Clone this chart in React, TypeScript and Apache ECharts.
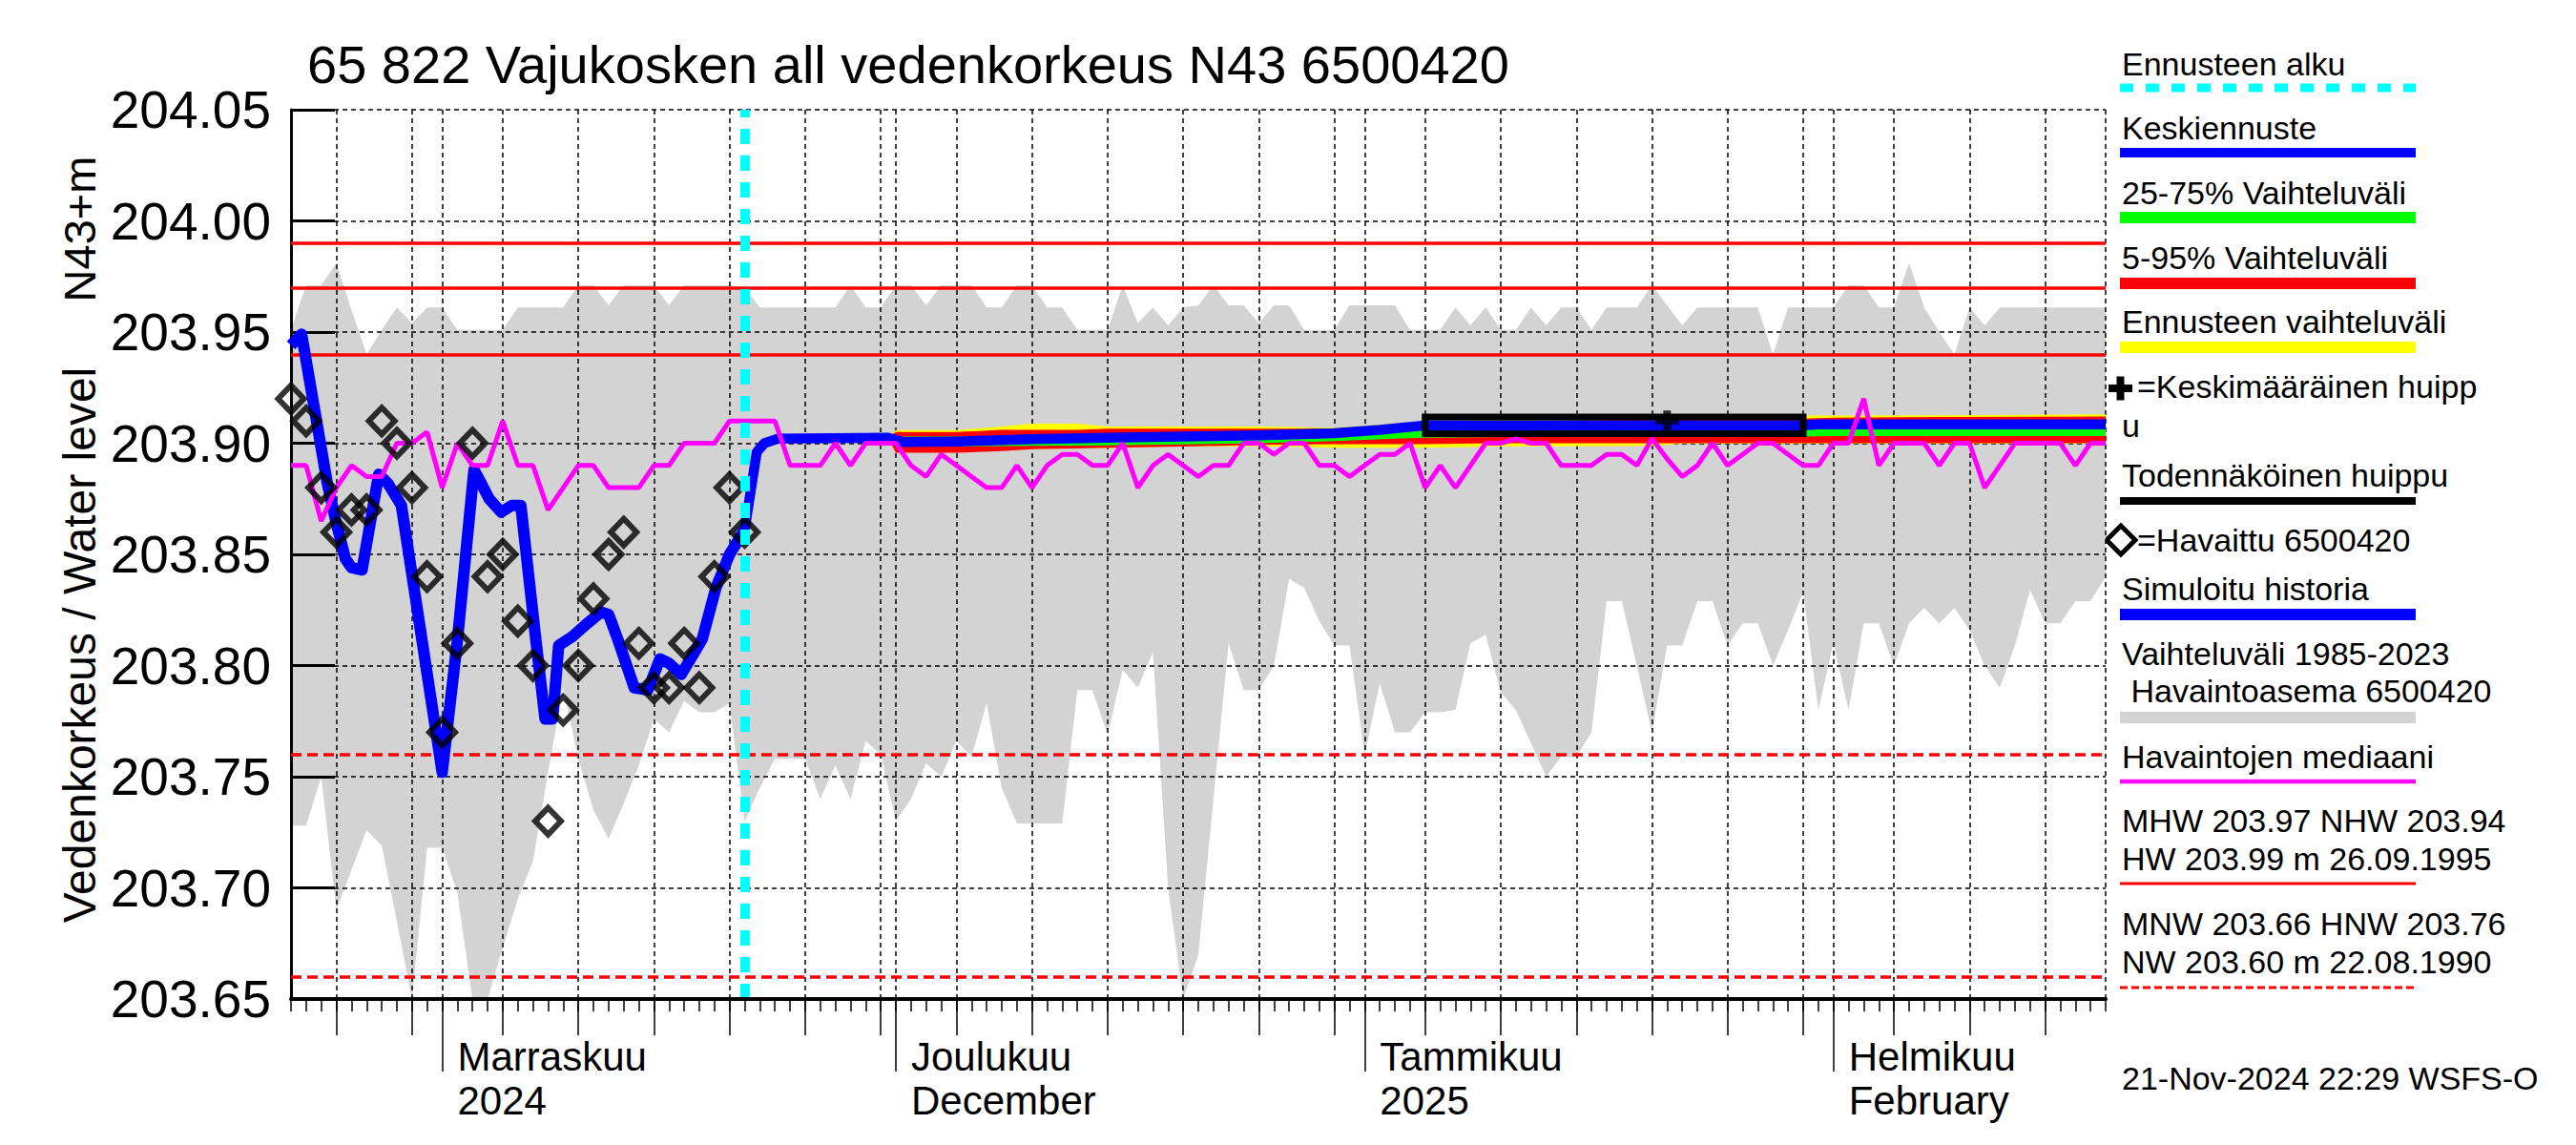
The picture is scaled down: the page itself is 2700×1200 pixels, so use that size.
import React, { useEffect, useRef } from 'react';
import * as echarts from 'echarts';

// x = days since 22 Oct 2024 (0 .. 120 = 19 Feb 2025)
const X_MIN = 0;
const X_MAX = 120;
const Y_MIN = 203.65;
const Y_MAX = 204.05;
const Y_STEP = 0.05;

const monthDays = [10, 40, 71, 102];
const monthLabels = ['Marraskuu\n2024', 'Joulukuu\nDecember', 'Tammikuu\n2025', 'Helmikuu\nFebruary'];
const fiveDayTicks = [3, 8, 14, 19, 24, 29, 34, 39, 44, 49, 54, 59, 64, 69, 75, 80, 85, 90, 95, 100, 106, 111, 116];
const gridDays = [...fiveDayTicks, ...monthDays, 120];
const forecastStartDay = 30;

const refSolid = [203.99, 203.97, 203.94];
const refDashed = [203.76, 203.66];

// Vaihteluväli 1985-2023 (daily max / min)
const histUpper = [
  203.951, 203.971, 203.971, 203.981, 203.960, 203.940, 203.951, 203.961, 203.954, 203.961,
  203.961, 203.951, 203.951, 203.951, 203.951, 203.961, 203.961, 203.961, 203.961, 203.971,
  203.971, 203.962, 203.971, 203.971, 203.971, 203.962, 203.971, 203.971, 203.971, 203.971,
  203.970, 203.961, 203.961, 203.961, 203.961, 203.961, 203.961, 203.971, 203.961, 203.961,
  203.971, 203.971, 203.962, 203.971, 203.971, 203.971, 203.961, 203.961, 203.971, 203.971,
  203.961, 203.961, 203.951, 203.951, 203.951, 203.971, 203.954, 203.961, 203.953, 203.961,
  203.962, 203.971, 203.962, 203.962, 203.954, 203.962, 203.962, 203.951, 203.951, 203.951,
  203.962, 203.962, 203.962, 203.962, 203.951, 203.951, 203.951, 203.961, 203.953, 203.961,
  203.951, 203.951, 203.961, 203.953, 203.961, 203.961, 203.951, 203.961, 203.961, 203.961,
  203.971, 203.962, 203.953, 203.961, 203.961, 203.961, 203.961, 203.961, 203.940, 203.961,
  203.961, 203.961, 203.961, 203.971, 203.971, 203.961, 203.961, 203.981, 203.961, 203.950,
  203.940, 203.961, 203.953, 203.961, 203.961, 203.961, 203.961, 203.961, 203.961, 203.961,
  203.961,
];
const histLower = [
  203.728, 203.728, 203.750, 203.690, 203.708, 203.726, 203.719, 203.685, 203.650, 203.718,
  203.718, 203.698, 203.650, 203.650, 203.673, 203.695, 203.712, 203.752, 203.790, 203.758,
  203.735, 203.722, 203.738, 203.755, 203.776, 203.770, 203.784, 203.779, 203.779, 203.783,
  203.730, 203.745, 203.758, 203.758, 203.758, 203.740, 203.755, 203.740, 203.766, 203.760,
  203.730, 203.740, 203.756, 203.750, 203.766, 203.759, 203.783, 203.745, 203.729, 203.729,
  203.729, 203.729, 203.789, 203.789, 203.769, 203.798, 203.790, 203.806, 203.700, 203.650,
  203.670, 203.740, 203.810, 203.789, 203.789, 203.800, 203.839, 203.835, 203.820, 203.809,
  203.809, 203.760, 203.792, 203.770, 203.770, 203.779, 203.779, 203.780, 203.810, 203.814,
  203.788, 203.780, 203.765, 203.750, 203.759, 203.759, 203.770, 203.829, 203.829, 203.800,
  203.770, 203.809, 203.809, 203.829, 203.829, 203.809, 203.819, 203.819, 203.800, 203.816,
  203.833, 203.780, 203.810, 203.780, 203.819, 203.819, 203.800, 203.819, 203.826, 203.819,
  203.826, 203.816, 203.800, 203.790, 203.809, 203.834, 203.819, 203.819, 203.829, 203.829,
  203.840,
];
// Havaintojen mediaani (daily)
const median = [
  203.890, 203.890, 203.865, 203.880, 203.890, 203.885, 203.885, 203.900, 203.900, 203.905,
  203.880, 203.900, 203.890, 203.890, 203.910, 203.890, 203.890, 203.870, 203.880, 203.890,
  203.890, 203.880, 203.880, 203.880, 203.890, 203.890, 203.900, 203.900, 203.900, 203.910,
  203.910, 203.910, 203.910, 203.890, 203.890, 203.890, 203.900, 203.890, 203.900, 203.900,
  203.900, 203.890, 203.885, 203.895, 203.890, 203.885, 203.880, 203.880, 203.890, 203.880,
  203.890, 203.895, 203.895, 203.890, 203.890, 203.900, 203.880, 203.890, 203.895, 203.890,
  203.885, 203.890, 203.890, 203.900, 203.900, 203.895, 203.900, 203.900, 203.890, 203.890,
  203.885, 203.890, 203.895, 203.895, 203.900, 203.880, 203.890, 203.880, 203.890, 203.900,
  203.900, 203.902, 203.900, 203.900, 203.890, 203.890, 203.890, 203.895, 203.895, 203.890,
  203.902, 203.893, 203.885, 203.890, 203.900, 203.890, 203.895, 203.900, 203.900, 203.895,
  203.890, 203.890, 203.900, 203.900, 203.920, 203.890, 203.900, 203.900, 203.900, 203.890,
  203.900, 203.900, 203.880, 203.890, 203.900, 203.900, 203.900, 203.900, 203.890, 203.900,
  203.900,
];
// Havaittu 6500420 (days 0..30)
const observed = [
  203.92, 203.91, 203.88, 203.86, 203.87, 203.87, 203.91, 203.90, 203.88, 203.84,
  203.77, 203.81, 203.90, 203.84, 203.85, 203.82, 203.80, 203.73, 203.78, 203.80,
  203.83, 203.85, 203.86, 203.81, 203.79, 203.79, 203.81, 203.79, 203.84, 203.88,
  203.86,
];
// Simuloitu historia
const simulated: [number, number][] = [
  [0, 203.944], [0.7, 203.949], [2.4, 203.882], [3.0, 203.864], [3.6, 203.848], [4.0, 203.844],
  [4.7, 203.843], [5.8, 203.886], [6.4, 203.882], [7.3, 203.872], [10.0, 203.752], [11.0, 203.811],
  [12.1, 203.888], [12.5, 203.883], [13.1, 203.875], [13.9, 203.869], [14.6, 203.872], [15.2, 203.872],
  [16.2, 203.811], [16.8, 203.776], [17.3, 203.776], [17.7, 203.809], [18.6, 203.813], [19.6, 203.819],
  [20.5, 203.824], [21.0, 203.823], [21.6, 203.812], [22.7, 203.790], [23.6, 203.789], [24.4, 203.803],
  [25.0, 203.801], [25.8, 203.796], [26.6, 203.805], [27.2, 203.812], [28.1, 203.835], [29.0, 203.850],
  [30.0, 203.861],
];
// Keskiennuste
const forecastMean: [number, number][] = [
  [30.0, 203.861], [30.8, 203.896], [31.3, 203.900], [32.2, 203.902], [39.5, 203.9025], [40.5, 203.9005],
  [44, 203.9008], [49, 203.9018], [54, 203.9025], [59, 203.903], [64, 203.9035], [69, 203.9045],
  [72, 203.906], [75, 203.908], [100, 203.908], [101, 203.9085], [120, 203.9085],
];
// forecast bands
const bandDays = [39.5, 40, 44, 47, 49, 52, 54, 59, 64, 69, 71, 73, 75, 80, 90, 92, 100, 102, 110, 120];
const yellowUp = [203.9027, 203.9059, 203.9059, 203.9075, 203.9088, 203.9088, 203.9075, 203.9075, 203.9075, 203.907, 203.9078, 203.9088, 203.9098, 203.911, 203.912, 203.912, 203.9124, 203.9125, 203.9126, 203.913];
const yellowLo = [203.9023, 203.8957, 203.8967, 203.897, 203.8973, 203.8976, 203.898, 203.8986, 203.8986, 203.898, 203.898, 203.898, 203.898, 203.8985, 203.8988, 203.8998, 203.8998, 203.8998, 203.8998, 203.8998];
const redUp = [203.9027, 203.905, 203.905, 203.906, 203.906, 203.906, 203.9065, 203.9065, 203.9065, 203.9065, 203.907, 203.9078, 203.9085, 203.91, 203.9105, 203.9108, 203.911, 203.9115, 203.9118, 203.912];
const redLo = [203.9023, 203.8957, 203.8957, 203.8965, 203.8973, 203.8976, 203.898, 203.8985, 203.8992, 203.8996, 203.8996, 203.8996, 203.8996, 203.9, 203.9, 203.9, 203.9, 203.9, 203.9, 203.9];
const greenUp = [203.9026, 203.903, 203.903, 203.9032, 203.9033, 203.9034, 203.9035, 203.904, 203.9045, 203.9055, 203.9065, 203.9075, 203.9085, 203.9088, 203.909, 203.909, 203.909, 203.9095, 203.9095, 203.9095];
const greenLo = [203.9024, 203.8985, 203.8985, 203.8987, 203.8988, 203.8989, 203.899, 203.8995, 203.9, 203.901, 203.9015, 203.902, 203.9025, 203.9028, 203.903, 203.903, 203.903, 203.9032, 203.9032, 203.9032];
// Todennäköinen huippu (day from, day to, low, high) and Keskimääräinen huippu
const peakBox = [75, 100, 203.9043, 203.9118];
const meanPeak: [number, number] = [91, 203.91];

const FONT = '"Liberation Sans", Arial, Helvetica, sans-serif';
const days = histUpper.map((_, i) => i);

// filled band between lo and hi, drawn as one polygon through the axes' scales
function bandSeries(name: string, xs: number[], lo: number[], hi: number[], color: string, z: number) {
  return {
    type: 'custom', name, z, silent: true, clip: true,
    data: xs.map((d, i) => [d, lo[i], hi[i]]),
    encode: { x: 0, y: [1, 2] },
    renderItem: (params: any, api: any) => {
      if (params.dataIndex !== 0) return null;
      const top = xs.map((d, i) => api.coord([d, hi[i]]));
      const bot = xs.map((d, i) => api.coord([d, lo[i]])).reverse();
      return {
        type: 'polygon', silent: true,
        shape: { points: top.concat(bot) },
        style: { fill: color, stroke: null },
      };
    },
  };
}

function legendLine(y: number, color: string, width: number, dash?: number[]) {
  return {
    type: 'line', shape: { x1: 2222, y1: y, x2: 2532, y2: y },
    style: { stroke: color, lineWidth: width, lineDash: dash },
  };
}
function legendText(x: number, y: number, text: string) {
  return {
    type: 'text', x, y,
    style: { text, fontSize: 34, fontFamily: FONT, fill: '#000', align: 'left', verticalAlign: 'middle' },
  };
}

const xBase = { type: 'value', min: X_MIN, max: X_MAX, position: 'bottom', z: 10 };
const tickStyle = { color: '#000', width: 1.5 };

const option: any = {
  animation: false,
  backgroundColor: '#fff',
  grid: { left: 305, top: 115, width: 1902, height: 932, containLabel: false, outerBoundsMode: 'none' },
  xAxis: [
    {
      ...xBase, interval: 1,
      axisLine: { show: true, onZero: false, lineStyle: { color: '#000', width: 4 } },
      axisTick: { show: true, length: 13, lineStyle: tickStyle },
      axisLabel: { show: false }, splitLine: { show: false },
    },
    {
      ...xBase, interval: 1,
      axisLine: { show: false, onZero: false },
      axisTick: { show: true, customValues: fiveDayTicks, length: 38, lineStyle: tickStyle },
      axisLabel: { show: false }, splitLine: { show: false },
    },
    {
      ...xBase, interval: 1,
      axisLine: { show: false, onZero: false },
      axisTick: { show: true, customValues: monthDays, length: 76, lineStyle: tickStyle },
      axisLabel: {
        show: true, customValues: monthDays,
        formatter: (v: number) => {
          const i = monthDays.indexOf(Math.round(v));
          return i >= 0 ? monthLabels[i] : '';
        },
        align: 'left', padding: [0, 0, 0, 16], margin: 37, lineHeight: 46,
        fontSize: 42, fontFamily: FONT, color: '#000',
      },
      splitLine: { show: false },
    },
  ],
  yAxis: {
    type: 'value', min: Y_MIN, max: Y_MAX, interval: Y_STEP, z: 2,
    axisLine: { show: true, onZero: false, lineStyle: { color: '#000', width: 3 } },
    axisTick: { show: true, inside: true, length: 46, lineStyle: { color: '#000', width: 3 } },
    axisLabel: {
      fontSize: 55, fontFamily: FONT, color: '#000', margin: 21, padding: [0, 0, 16, 0],
      formatter: (v: number) => v.toFixed(2),
    },
    splitLine: { show: true, lineStyle: { color: '#000', type: [5, 4], width: 1.5 } },
  },
  series: [
    bandSeries('Vaihteluväli 1985-2023', days, histLower, histUpper, '#d3d3d3', 1),
    {
      type: 'line', name: 'grid', data: [], silent: true, z: 2,
      markLine: {
        z: 2, silent: true, symbol: ['none', 'none'], label: { show: false }, animation: false,
        lineStyle: { color: '#000', type: [5, 4], width: 1.5 },
        data: gridDays.map((d) => ({ xAxis: d })),
      },
    },
    {
      type: 'line', name: 'ref', data: [], silent: true, z: 3,
      markLine: {
        z: 3, silent: true, symbol: ['none', 'none'], label: { show: false }, animation: false,
        data: [
          ...refSolid.map((v) => ({ yAxis: v, lineStyle: { color: '#ff0000', width: 3.5, type: 'solid' } })),
          ...refDashed.map((v) => ({ yAxis: v, lineStyle: { color: '#ff0000', width: 3.5, type: [11, 6] } })),
        ],
      },
    },
    bandSeries('Ennusteen vaihteluväli', bandDays, yellowLo, yellowUp, '#ffff00', 4),
    bandSeries('5-95% Vaihteluväli', bandDays, redLo, redUp, '#ff0000', 4),
    bandSeries('25-75% Vaihteluväli', bandDays, greenLo, greenUp, '#00ff00', 4),
    {
      type: 'line', name: 'Simuloitu historia', data: simulated, symbol: 'none', z: 5,
      lineStyle: { color: '#0000ff', width: 12, join: 'round' },
    },
    {
      type: 'line', name: 'Keskiennuste', data: forecastMean, symbol: 'none', z: 5,
      lineStyle: { color: '#0000ff', width: 10.5, join: 'round' },
    },
    {
      type: 'line', name: 'Todennäköinen huippu', data: [], silent: true, z: 6,
      markArea: {
        z: 6, silent: true, label: { show: false },
        itemStyle: { color: 'rgba(0,0,0,0)', borderColor: '#000', borderWidth: 7 },
        data: [[{ coord: [peakBox[0], peakBox[2]] }, { coord: [peakBox[1], peakBox[3]] }]],
      },
    },
    {
      type: 'scatter', name: 'Keskimääräinen huippu', data: [meanPeak], z: 6,
      symbol: 'path://M4,0H8V4H12V8H8V12H4V8H0V4H4Z', symbolSize: [24, 22],
      itemStyle: { color: '#000' },
    },
    {
      type: 'line', name: 'Havaintojen mediaani', data: days.map((d) => [d, median[d]]),
      symbol: 'none', z: 7, lineStyle: { color: '#ff00ff', width: 5 },
    },
    {
      type: 'scatter', name: 'Havaittu 6500420', data: observed.map((v, i) => [i, v]), z: 8,
      symbol: 'diamond', symbolSize: [27, 28],
      itemStyle: { color: 'rgba(0,0,0,0)', borderColor: '#000', borderWidth: 6 },
    },
    {
      type: 'line', name: 'Ennusteen alku', data: [], silent: true, z: 9,
      markLine: {
        z: 9, silent: true, symbol: ['none', 'none'], label: { show: false }, animation: false,
        lineStyle: { color: '#00ffff', width: 10, type: [16, 12] },
        data: [{ xAxis: forecastStartDay }],
      },
    },
  ],
  graphic: [
    {
      type: 'text', x: 322, y: 67,
      style: { text: '65 822 Vajukosken all vedenkorkeus N43 6500420', fontSize: 56, fontFamily: FONT, fill: '#000', align: 'left', verticalAlign: 'middle' },
    },
    {
      type: 'text', x: 83, y: 240, rotation: Math.PI / 2,
      style: { text: 'N43+m', fontSize: 47, fontFamily: FONT, fill: '#000', align: 'center', verticalAlign: 'middle' },
    },
    {
      type: 'text', x: 83, y: 676, rotation: Math.PI / 2,
      style: { text: 'Vedenkorkeus / Water level', fontSize: 48, fontFamily: FONT, fill: '#000', align: 'center', verticalAlign: 'middle' },
    },
    legendText(2224, 67, 'Ennusteen alku'),
    legendLine(92, '#00ffff', 9, [14, 13]),
    legendText(2224, 134, 'Keskiennuste'),
    legendLine(160, '#0000ff', 10),
    legendText(2224, 202, '25-75% Vaihteluväli'),
    legendLine(228, '#00ff00', 12),
    legendText(2224, 270, '5-95% Vaihteluväli'),
    legendLine(297, '#ff0000', 12),
    legendText(2224, 337, 'Ennusteen vaihteluväli'),
    legendLine(364, '#ffff00', 12),
    { type: 'rect', shape: { x: 2210, y: 403, width: 25, height: 8 }, style: { fill: '#000' } },
    { type: 'rect', shape: { x: 2218.5, y: 394.5, width: 8, height: 25 }, style: { fill: '#000' } },
    legendText(2240, 405, '=Keskimääräinen huipp'),
    legendText(2224, 446, 'u'),
    legendText(2224, 498, 'Todennäköinen huippu'),
    legendLine(525, '#000000', 8),
    {
      type: 'polygon', shape: { points: [[2223, 551], [2238, 566], [2223, 581], [2208, 566]] },
      style: { fill: 'none', stroke: '#000', lineWidth: 5 },
    },
    legendText(2240, 566, '=Havaittu 6500420'),
    legendText(2224, 617, 'Simuloitu historia'),
    legendLine(644, '#0000ff', 12),
    legendText(2224, 685, 'Vaihteluväli 1985-2023'),
    legendText(2224, 724, ' Havaintoasema 6500420'),
    legendLine(752, '#d3d3d3', 12),
    legendText(2224, 793, 'Havaintojen mediaani'),
    legendLine(819, '#ff00ff', 4.5),
    legendText(2224, 860, 'MHW 203.97 NHW 203.94'),
    legendText(2224, 900, 'HW 203.99 m 26.09.1995'),
    legendLine(926, '#ff0000', 3),
    legendText(2224, 968, 'MNW 203.66 HNW 203.76'),
    legendText(2224, 1008, 'NW 203.60 m 22.08.1990'),
    legendLine(1035, '#ff0000', 3, [8, 4]),
    legendText(2224, 1130, '21-Nov-2024 22:29 WSFS-O'),
  ],
};

export default function App() {
  const ref = useRef<HTMLDivElement>(null);
  useEffect(() => {
    const chart = echarts.init(ref.current!, null, { renderer: 'svg' });
    chart.setOption(option);
    return () => chart.dispose();
  }, []);
  return (
    <div
      ref={ref}
      style={{ position: 'fixed', left: 0, top: 0, width: 2700, height: 1200, background: '#fff' }}
    />
  );
}
